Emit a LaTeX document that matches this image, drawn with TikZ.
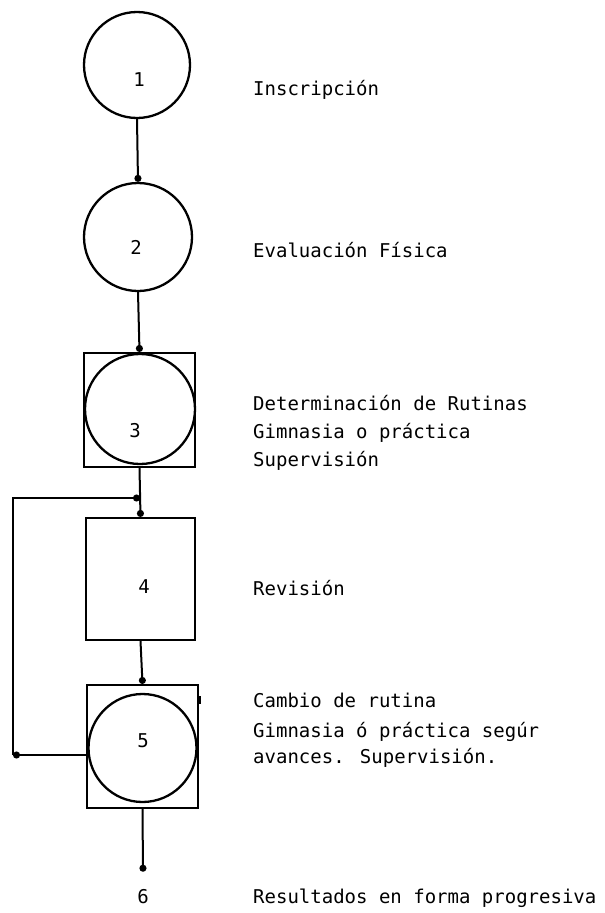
\documentclass[tikz,border=0pt]{standalone}
\usepackage{fontspec}
\newfontfamily\dm{DejaVu Sans Mono}
\usetikzlibrary{arrows.meta}
\begin{document}
\begin{tikzpicture}[x=1pt,y=-1pt,
  circ/.style={draw,circle,line width=2.3pt,inner sep=0pt,minimum size=#1},
  boxx/.style={draw,rectangle,line width=2.1pt,inner sep=0pt},
  conn/.style={line width=2pt},
  dotend/.style={conn,-{Circle[length=7pt]}},
  lbl/.style={font=\dm\fontsize{19}{28}\selectfont,inner sep=0pt,anchor=base west},
  num/.style={font=\dm\fontsize{19}{28}\selectfont,inner sep=0pt,anchor=base}]
\useasboundingbox (0,0) rectangle (605,913);
% shapes
\node[circ=106pt] (c1) at (137,65) {};
\node[circ=108pt] (c2) at (138,237) {};
\node[boxx,minimum width=111pt,minimum height=114pt] (b3) at (139.5,410) {};
\node[circ=110pt] (c3) at (140,409) {};
\node[boxx,minimum width=109pt,minimum height=122pt] (b4) at (140.5,579) {};
\node[boxx,minimum width=111pt,minimum height=123pt] (b5) at (142.5,746.5) {};
\node[circ=108pt] (c5) at (142.5,748) {};
% numbers
\node[num] (n1) at (139,86) {1};
\node[num] (n2) at (136,254) {2};
\node[num] (n3) at (135,437) {3};
\node[num] (n4) at (144,593) {4};
\node[num] (n5) at (143,747) {5};
\node[num] (n6) at (143,903) {6};
% connectors
\coordinate (j) at (140,498);
\coordinate (fb) at (13,755);
\draw[dotend] (c1.south) -- (c2.north);
\draw[dotend] (c2.south) -- (b3.north);
\draw[dotend] (b3.south) -- (b4.north);
\draw[dotend] (b4.south) -- (b5.north);
\draw[dotend] (b5.west |- fb) -- (fb);
\draw[dotend] (fb) |- (j);
\draw[dotend] (b5.south) -- ([yshift=17pt]n6.north);
\draw[line width=1.2pt] (200,696) -- (200,704);
% labels
\node[lbl] (t1) at (253,95) {Inscripción};
\node[lbl] (t2) at (253,257) {Evaluación Física};
\node[lbl] (t3a) at (253,410) {Determinación de Rutinas};
\node[lbl] (t3b) at (253,438) {Gimnasia o práctica};
\node[lbl] (t3c) at (253,466) {Supervisión};
\node[lbl] (t4) at (253,595) {Revisión};
\node[lbl] (t5a) at (253,707) {Cambio de rutina};
\node[lbl] (t5b) at (253,737) {Gimnasia ó práctica segúr};
\node[lbl] (t5c) at (253,763) {avances. Supervisión.};
\node[lbl] (t6) at (253,903) {Resultados en forma progresiva};
\end{tikzpicture}
\end{document}
